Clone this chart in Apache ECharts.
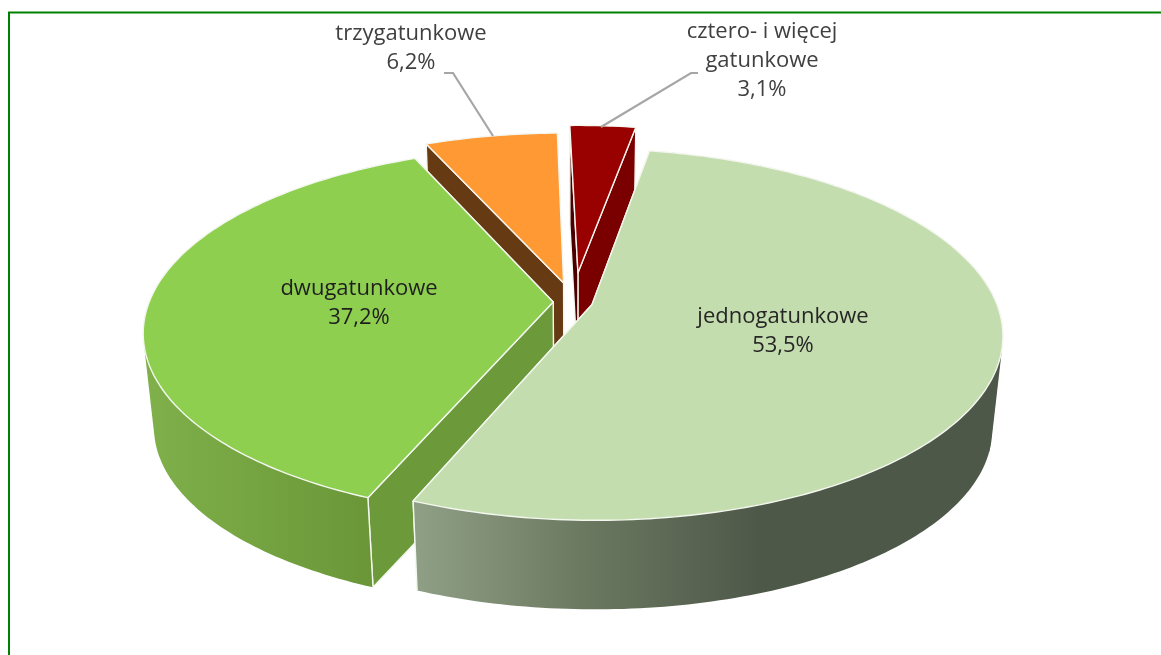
<!DOCTYPE html>
<html><head><meta charset="utf-8">
<style>html,body{margin:0;padding:0;background:#fff}#c{width:1161px;height:655px}</style>
<script src="https://cdn.jsdelivr.net/npm/echarts@6/dist/echarts.min.js"></script>
</head><body><div id="c"></div>
<script>
// ---- data ----
const categories = ['jednogatunkowe', 'dwugatunkowe', 'trzygatunkowe', 'cztero- i więcej\ngatunkowe'];
const shares = [53.5, 37.2, 6.2, 3.1];
// ---- styling ----
const explode = [0.049, 0.049, 0.11, 0.167];
const topColors = ['#C4DDAF', '#8ECF50', '#FF9933', '#990000'];
const wallColors = ['#8F9F85', '#6C9A3A', '#663A12', '#7A0000'];
const openingWallColors = ['#8F9F85', '#6C9A3A', '#663A12', '#4A0000'];
const rimStops = [
  [[0, '#90A086'], [0.5, '#6A7860'], [1, '#4E5849']],
  [[0, '#7FB04A'], [1, '#6A9638']]
];
const rimSpan = [[413, 760], [148, 372]];
const labelPos = [[783, 331.5], [359, 303.5], [411, 48], [762, 61]];
const labelColor = ['#262626', '#1f1f1f', '#404040', '#404040'];
const leaders = [null, null, [[444, 73], [453, 73], [493, 136]], [[601, 127], [691, 73], [698, 73]]];
const drawOrder = [2, 3, 1, 0];
// ---- projection of the tilted disc ----
const P = { cx: 573, cy: 302, R: 404, B: 180, p: 0.162, start: 9.9, zx: 0.975, zy: 0.975, zcy: 396.5 };
function proj(X, Y, low) {
  const s = 1 / (1 - P.p * Y);
  const x = P.R * X * s, y = P.B * Y * s;
  return low ? [P.cx + x * P.zx, P.zcy + y * P.zy] : [P.cx + x, P.cy + y];
}
const total = shares.reduce((a, b) => a + b, 0);
function fmt(v) { return v.toFixed(1).replace('.', ',') + '%'; }
function hull(pts) {
  const p = pts.slice().sort((a, b) => a[0] - b[0] || a[1] - b[1]);
  const cross = (o, a, b) => (a[0] - o[0]) * (b[1] - o[1]) - (a[1] - o[1]) * (b[0] - o[0]);
  const chain = list => {
    const out = [];
    list.forEach(q => {
      while (out.length > 1 && cross(out[out.length - 2], out[out.length - 1], q) <= 0) out.pop();
      out.push(q);
    });
    out.pop();
    return out;
  };
  return chain(p).concat(chain(p.slice().reverse()));
}

function renderItem(params, api) {
  const i = api.value(0), v = api.value(1);
  let before = 0;
  for (let k = 0; k < i; k++) before += shares[k];
  const a0 = P.start + before / total * 360, a1 = a0 + v / total * 360;
  const mid = (a0 + a1) / 2 * Math.PI / 180;
  const ox = explode[i] * Math.sin(mid), oy = -explode[i] * Math.cos(mid);
  const arc = [];
  const n = Math.max(6, Math.ceil(a1 - a0));
  for (let j = 0; j <= n; j++) {
    const t = (a0 + (a1 - a0) * j / n) * Math.PI / 180;
    arc.push([ox + Math.sin(t), oy - Math.cos(t)]);
  }
  const top = arc.map(d => proj(d[0], d[1], false));
  const low = arc.map(d => proj(d[0], d[1], true));
  const apexT = proj(ox, oy, false), apexL = proj(ox, oy, true);
  const edge = { stroke: '#F4F7F0', lineWidth: 1.4, lineJoin: 'round' };
  const kids = [];
  // radial walls: closing edge first, opening edge over it
  [[top[n], low[n], wallColors[i]], [top[0], low[0], openingWallColors[i]]].forEach(e => {
    kids.push({ type: 'polygon', shape: { points: [apexT, e[0], e[1], apexL] },
      style: Object.assign({ fill: e[2] }, edge) });
  });
  // outer rim only where it faces the viewer: swept hull of the two arcs, in two overlapping parts
  if (rimStops[i]) {
    const sp = rimSpan[i], half = Math.floor(n / 2);
    const fill = { type: 'linear', x: sp[0], y: 0, x2: sp[1], y2: 0, global: true,
      colorStops: rimStops[i].map(s => ({ offset: s[0], color: s[1] })) };
    [[0, half + 2], [half, n + 1]].forEach(r => {
      const pts = top.slice(r[0], r[1]).concat(low.slice(r[0], r[1]));
      kids.push({ type: 'polygon', shape: { points: hull(pts) }, style: { fill: fill } });
    });
    [[top[0], low[0]], [top[n], low[n]]].forEach(e => {
      kids.push({ type: 'polyline', shape: { points: e }, style: { stroke: '#F4F7F0', lineWidth: 1.4, fill: null } });
    });
  }
  kids.push({ type: 'polygon', shape: { points: [apexT].concat(top) },
    style: Object.assign({ fill: topColors[i] }, edge) });
  if (leaders[i]) kids.push({ type: 'polyline', shape: { points: leaders[i] },
    style: { stroke: '#A6A6A6', lineWidth: 2.2, fill: null } });
  kids.push({ type: 'text', x: labelPos[i][0], y: labelPos[i][1], style: {
    text: categories[i] + '\n' + fmt(v), fill: labelColor[i], align: 'center', verticalAlign: 'middle',
    font: '22px "Open Sans"', lineHeight: 29 } });
  return { type: 'group', children: kids };
}

const chart = echarts.init(document.getElementById('c'), null, { renderer: 'canvas' });
chart.setOption({
  animation: false,
  backgroundColor: '#fff',
  graphic: [{ type: 'rect', silent: true, shape: { x: 9, y: 12.5, width: 1300, height: 800 },
    style: { fill: 'none', stroke: '#008000', lineWidth: 2 } }],
  series: [{ type: 'custom', coordinateSystem: 'none', renderItem: renderItem, silent: true,
    data: drawOrder.map(i => [i, shares[i]]) }]
});
</script></body></html>
